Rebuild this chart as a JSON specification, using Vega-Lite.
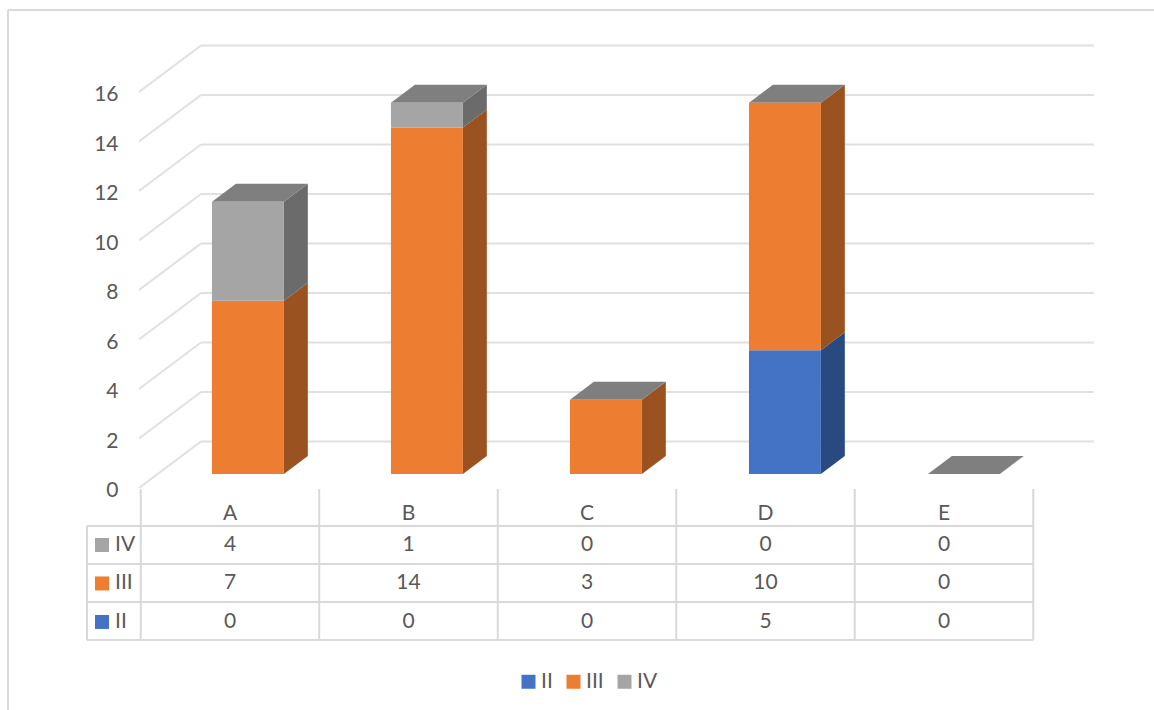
{"$schema":"https://vega.github.io/schema/vega-lite/v6.json","width":1154,"height":710,"autosize":"none","padding":0,"background":"white","config":{"view":{"stroke":null},"text":{"font":"Lato","fontSize":21,"color":"#595959"}},"datasets":{"bars":[{"cat":"A","idx":0,"series":"II","value":0},{"cat":"A","idx":0,"series":"III","value":7},{"cat":"A","idx":0,"series":"IV","value":4},{"cat":"B","idx":1,"series":"II","value":0},{"cat":"B","idx":1,"series":"III","value":14},{"cat":"B","idx":1,"series":"IV","value":1},{"cat":"C","idx":2,"series":"II","value":0},{"cat":"C","idx":2,"series":"III","value":3},{"cat":"C","idx":2,"series":"IV","value":0},{"cat":"D","idx":3,"series":"II","value":5},{"cat":"D","idx":3,"series":"III","value":10},{"cat":"D","idx":3,"series":"IV","value":0},{"cat":"E","idx":4,"series":"II","value":0},{"cat":"E","idx":4,"series":"III","value":0},{"cat":"E","idx":4,"series":"IV","value":0}],"ticks":[{"v":0},{"v":2},{"v":4},{"v":6},{"v":8},{"v":10},{"v":12},{"v":14},{"v":16}],"cols":[{"col":0},{"col":1},{"col":2},{"col":3},{"col":4},{"col":5}],"lines":[{"line":0},{"line":1},{"line":2},{"line":3}]},"resolve":{"scale":{"color":"independent"},"axis":{"y":"independent"}},"layer":[{"data":{"name":"ticks"},"transform":[{"calculate":"datum.v+1.313","as":"yb"},{"calculate":"-0.1625","as":"xa"},{"calculate":"4.84","as":"xb"}],"mark":{"type":"rule","color":"#e0e0e0","strokeWidth":2},"encoding":{"x":{"field":"xa","type":"quantitative","scale":{"domain":[-1.2885,5.1765],"nice":false,"zero":false},"axis":null},"x2":{"field":"xb"},"y":{"field":"yb","type":"quantitative","scale":{"domain":[-9.536,19.15],"nice":false,"zero":false},"axis":{"orient":"left","offset":-125,"title":null,"grid":false,"domain":false,"ticks":false,"values":[0,2,4,6,8,10,12,14,16],"labelFont":"Lato","labelFontSize":21,"labelColor":"#595959","labelPadding":7,"labelOffset":17,"labelBound":false,"labelFlush":false,"labelOverlap":false}}}},{"data":{"name":"ticks"},"transform":[{"calculate":"datum.v-0.566","as":"ya"},{"calculate":"datum.v+1.313","as":"yb"},{"calculate":"-0.51","as":"xa"},{"calculate":"-0.1625","as":"xb"}],"mark":{"type":"rule","color":"#e0e0e0","strokeWidth":2},"encoding":{"x":{"field":"xa","type":"quantitative","scale":{"domain":[-1.2885,5.1765],"nice":false,"zero":false},"axis":null},"x2":{"field":"xb"},"y":{"field":"ya","type":"quantitative","scale":{"domain":[-9.536,19.15],"nice":false,"zero":false},"axis":null},"y2":{"field":"yb"}}},{"data":{"name":"bars"},"transform":[{"filter":"datum.value>0"},{"stack":"value","groupby":["cat"],"sort":[{"field":"series","order":"ascending"}],"as":["s0","s1"]},{"calculate":"[0,1]","as":"d"},{"flatten":["d"]},{"calculate":"datum.idx*1.0028+0.302+datum.d*0.134","as":"xs"},{"calculate":"datum.s0+datum.d*0.727","as":"ya"},{"calculate":"datum.s1+datum.d*0.727","as":"yb"}],"mark":{"type":"area","orient":"vertical"},"encoding":{"x":{"field":"xs","type":"quantitative","scale":{"domain":[-1.2885,5.1765],"nice":false,"zero":false},"axis":null},"y":{"field":"ya","type":"quantitative","stack":null,"scale":{"domain":[-9.536,19.15],"nice":false,"zero":false},"axis":null},"y2":{"field":"yb"},"detail":{"field":"cat"},"color":{"field":"series","type":"nominal","scale":{"domain":["II","III","IV"],"range":["#294a80","#9a5220","#6b6b6b"]},"legend":null}}},{"data":{"name":"bars"},"transform":[{"aggregate":[{"op":"sum","field":"value","as":"total"}],"groupby":["cat","idx"]},{"calculate":"[0,1]","as":"d"},{"flatten":["d"]},{"calculate":"datum.idx*1.0028-0.101+datum.d*0.134","as":"xa"},{"calculate":"datum.idx*1.0028+0.302+datum.d*0.134","as":"xb"},{"calculate":"datum.total+datum.d*0.727","as":"yt"}],"mark":{"type":"area","orient":"horizontal","color":"#7f7f7f"},"encoding":{"x":{"field":"xa","type":"quantitative","stack":null,"scale":{"domain":[-1.2885,5.1765],"nice":false,"zero":false},"axis":null},"x2":{"field":"xb"},"y":{"field":"yt","type":"quantitative","scale":{"domain":[-9.536,19.15],"nice":false,"zero":false},"axis":null},"detail":{"field":"cat"}}},{"data":{"name":"bars"},"transform":[{"filter":"datum.value>0"},{"stack":"value","groupby":["cat"],"sort":[{"field":"series","order":"ascending"}],"as":["s0","s1"]},{"calculate":"datum.idx*1.0028-0.101","as":"xa"},{"calculate":"datum.idx*1.0028+0.302","as":"xb"}],"mark":{"type":"rect"},"encoding":{"x":{"field":"xa","type":"quantitative","scale":{"domain":[-1.2885,5.1765],"nice":false,"zero":false},"axis":null},"x2":{"field":"xb"},"y":{"field":"s0","type":"quantitative","scale":{"domain":[-9.536,19.15],"nice":false,"zero":false},"axis":null},"y2":{"field":"s1"},"color":{"field":"series","type":"nominal","scale":{"domain":["II","III","IV"],"range":["#4472c4","#ed7d31","#a5a5a5"]},"legend":{"orient":"none","legendX":518,"legendY":671,"direction":"horizontal","title":null,"symbolType":"square","symbolSize":196,"symbolStrokeWidth":0,"labelFont":"Lato","labelFontSize":21,"labelColor":"#595959","labelOffset":2,"columnPadding":10,"padding":0}}}},{"data":{"name":"cols"},"transform":[{"calculate":"datum.col-0.5","as":"xa"},{"calculate":"-0.606","as":"ya"},{"calculate":"-6.707","as":"yb"}],"mark":{"type":"rule","color":"#d9d9d9","strokeWidth":2},"encoding":{"x":{"field":"xa","type":"quantitative","scale":{"domain":[-1.2885,5.1765],"nice":false,"zero":false},"axis":null},"y":{"field":"ya","type":"quantitative","scale":{"domain":[-9.536,19.15],"nice":false,"zero":false},"axis":null},"y2":{"field":"yb"}}},{"data":{"name":"lines"},"transform":[{"calculate":"-2.101-1.535*datum.line","as":"ya"},{"calculate":"-0.801","as":"xa"},{"calculate":"4.5","as":"xb"}],"mark":{"type":"rule","color":"#d9d9d9","strokeWidth":2},"encoding":{"x":{"field":"xa","type":"quantitative","scale":{"domain":[-1.2885,5.1765],"nice":false,"zero":false},"axis":null},"x2":{"field":"xb"},"y":{"field":"ya","type":"quantitative","scale":{"domain":[-9.536,19.15],"nice":false,"zero":false},"axis":null}}},{"mark":{"type":"rule","color":"#d9d9d9","strokeWidth":2},"data":{"values":[{"a":1}]},"encoding":{"x":{"datum":-0.801,"type":"quantitative","scale":{"domain":[-1.2885,5.1765],"nice":false,"zero":false},"axis":null},"y":{"datum":-2.101,"type":"quantitative","scale":{"domain":[-9.536,19.15],"nice":false,"zero":false},"axis":null},"y2":{"datum":-6.707}}},{"mark":{"type":"rule","color":"#d9d9d9","strokeWidth":2},"data":{"values":[{"a":1}]},"encoding":{"x":{"datum":-1.2437,"type":"quantitative","scale":{"domain":[-1.2885,5.1765],"nice":false,"zero":false},"axis":null},"y":{"datum":18.75,"type":"quantitative","scale":{"domain":[-9.536,19.15],"nice":false,"zero":false},"axis":null},"y2":{"datum":-9.536}}},{"mark":{"type":"rule","color":"#d9d9d9","strokeWidth":2},"data":{"values":[{"a":1}]},"encoding":{"x":{"datum":-1.2437,"type":"quantitative","scale":{"domain":[-1.2885,5.1765],"nice":false,"zero":false},"axis":null},"x2":{"datum":5.1765},"y":{"datum":18.75,"type":"quantitative","scale":{"domain":[-9.536,19.15],"nice":false,"zero":false},"axis":null}}},{"data":{"name":"bars"},"transform":[{"filter":"datum.series==='II'"},{"calculate":"-1.616","as":"yh"}],"mark":{"type":"text","align":"center","baseline":"middle"},"encoding":{"x":{"field":"idx","type":"quantitative","scale":{"domain":[-1.2885,5.1765],"nice":false,"zero":false},"axis":null},"y":{"field":"yh","type":"quantitative","scale":{"domain":[-9.536,19.15],"nice":false,"zero":false},"axis":null},"text":{"field":"cat"}}},{"data":{"name":"bars"},"transform":[{"calculate":"-2.869-1.555*indexof(['IV','III','II'],datum.series)","as":"yr"}],"mark":{"type":"text","align":"center","baseline":"middle"},"encoding":{"x":{"field":"idx","type":"quantitative","scale":{"domain":[-1.2885,5.1765],"nice":false,"zero":false},"axis":null},"y":{"field":"yr","type":"quantitative","scale":{"domain":[-9.536,19.15],"nice":false,"zero":false},"axis":null},"text":{"field":"value"}}},{"data":{"name":"bars"},"transform":[{"filter":"datum.cat==='A'"},{"calculate":"-2.869-1.555*indexof(['IV','III','II'],datum.series)","as":"yr"},{"calculate":"-0.717","as":"xk"}],"mark":{"type":"point","shape":"square","filled":true,"opacity":1,"size":196},"encoding":{"x":{"field":"xk","type":"quantitative","scale":{"domain":[-1.2885,5.1765],"nice":false,"zero":false},"axis":null},"y":{"field":"yr","type":"quantitative","scale":{"domain":[-9.536,19.15],"nice":false,"zero":false},"axis":null},"color":{"field":"series","type":"nominal","scale":{"domain":["II","III","IV"],"range":["#4472c4","#ed7d31","#a5a5a5"]},"legend":null}}},{"data":{"name":"bars"},"transform":[{"filter":"datum.cat==='A'"},{"calculate":"-2.869-1.555*indexof(['IV','III','II'],datum.series)","as":"yr"},{"calculate":"-0.644","as":"xk"}],"mark":{"type":"text","align":"left","baseline":"middle"},"encoding":{"x":{"field":"xk","type":"quantitative","scale":{"domain":[-1.2885,5.1765],"nice":false,"zero":false},"axis":null},"y":{"field":"yr","type":"quantitative","scale":{"domain":[-9.536,19.15],"nice":false,"zero":false},"axis":null},"text":{"field":"series"}}}]}
